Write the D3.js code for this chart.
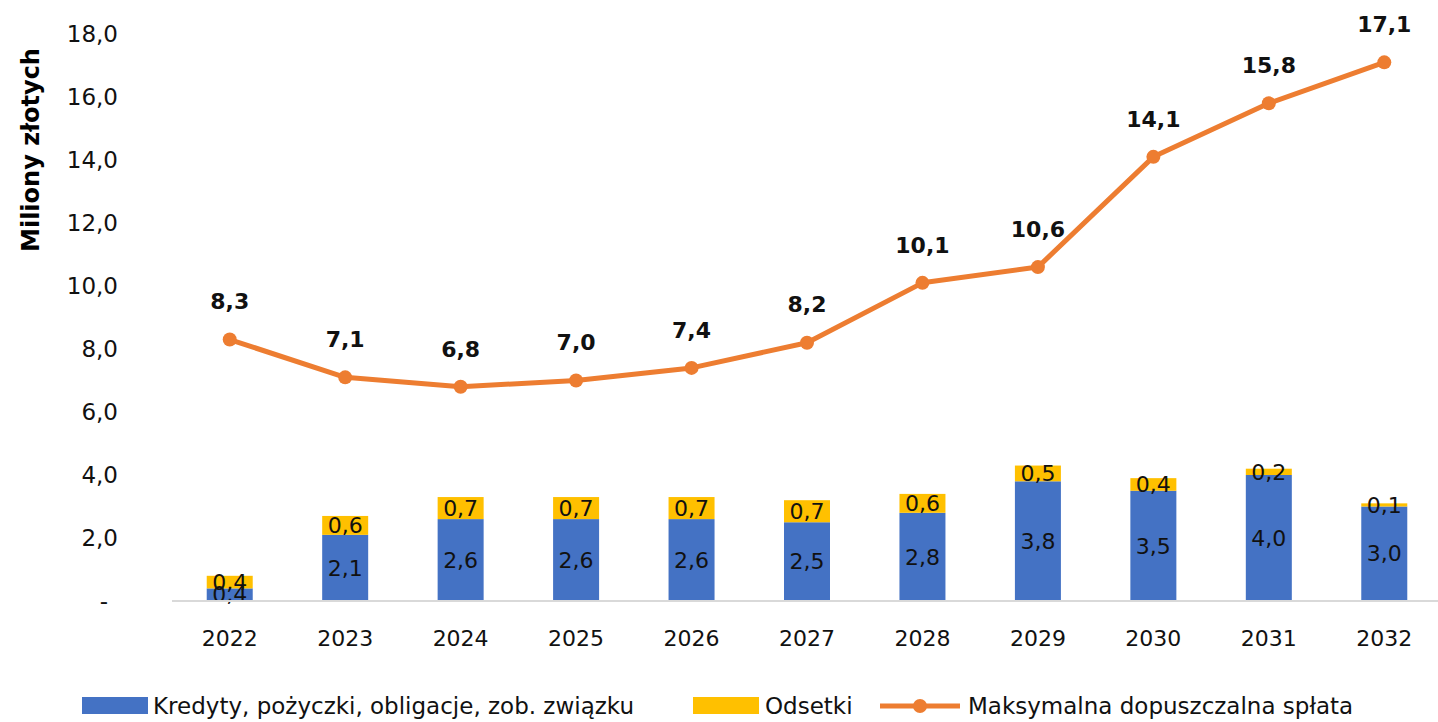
<!DOCTYPE html>
<html>
<head>
<meta charset="utf-8">
<script src="https://cdn.jsdelivr.net/npm/d3@7"></script>
<style>
  body { margin: 0; background: #fff; }
  svg { display: block; font-family: "DejaVu Sans", sans-serif; }
</style>
</head>
<body>
<svg id="chart" width="1438" height="722"></svg>
<script>
const years = ["2022", "2023", "2024", "2025", "2026", "2027", "2028", "2029", "2030", "2031", "2032"];
const kredyty = [0.4, 2.1, 2.6, 2.6, 2.6, 2.5, 2.8, 3.8, 3.5, 4.0, 3.0];
const odsetki = [0.4, 0.6, 0.7, 0.7, 0.7, 0.7, 0.6, 0.5, 0.4, 0.2, 0.1];
const maxSplata = [8.3, 7.1, 6.8, 7.0, 7.4, 8.2, 10.1, 10.6, 14.1, 15.8, 17.1];
const yTicks = [0, 2, 4, 6, 8, 10, 12, 14, 16, 18];
const legendLabels = ["Kredyty, pożyczki, obligacje, zob. związku", "Odsetki", "Maksymalna dopuszczalna spłata"];

const colors = { blue: "#4472C4", yellow: "#FFC000", orange: "#ED7D31" };
const fmt = v => d3.format(".1f")(v).replace(".", ",");

const svg = d3.select("#chart");
const plot = { left: 172, right: 1442, top: 34, bottom: 601 };

const x = d3.scaleBand().domain(years).range([plot.left, plot.right]).paddingInner(0.6).paddingOuter(0.3);
const xc = d => x(d) + x.bandwidth() / 2;
const y = d3.scaleLinear().domain([0, 18]).range([plot.bottom, plot.top]);

// y tick labels
svg.append("g").selectAll("text").data(yTicks).join("text")
  .attr("x", d => d === 0 ? 108 : 118)
  .attr("y", d => y(d))
  .attr("dy", "0.35em")
  .attr("text-anchor", "end")
  .attr("font-size", 23)
  .attr("fill", "#111")
  .text(d => d === 0 ? "-" : fmt(d));

// y title
svg.append("text")
  .attr("transform", "translate(39,150) rotate(-90)")
  .attr("text-anchor", "middle")
  .attr("font-size", 24)
  .attr("font-weight", "bold")
  .attr("fill", "#000")
  .text("Miliony złotych");

// stacked bars
const stack = years.map((yr, i) => ({ yr, k: kredyty[i], o: odsetki[i] }));
const barW = 46;
const bars = svg.append("g");
bars.selectAll(".blue").data(stack).join("rect")
  .attr("x", d => xc(d.yr) - barW / 2)
  .attr("width", barW)
  .attr("y", d => y(d.k))
  .attr("height", d => y(0) - y(d.k))
  .attr("fill", colors.blue);
bars.selectAll(".yellow").data(stack).join("rect")
  .attr("x", d => xc(d.yr) - barW / 2)
  .attr("width", barW)
  .attr("y", d => y(d.k + d.o))
  .attr("height", d => y(d.k) - y(d.k + d.o))
  .attr("fill", colors.yellow);

// baseline
svg.append("line")
  .attr("x1", plot.left).attr("x2", 1438)
  .attr("y1", y(0)).attr("y2", y(0))
  .attr("stroke", "#d9d9d9").attr("stroke-width", 2);

// bar labels
bars.selectAll(".lblk").data(stack).join("text")
  .attr("x", d => xc(d.yr))
  .attr("y", d => (y(0) + y(d.k)) / 2)
  .attr("dy", "0.35em")
  .attr("text-anchor", "middle")
  .attr("font-size", 22)
  .attr("fill", "#111")
  .text(d => fmt(d.k));
bars.selectAll(".lblo").data(stack).join("text")
  .attr("x", d => xc(d.yr))
  .attr("y", d => (y(d.k) + y(d.k + d.o)) / 2)
  .attr("dy", "0.35em")
  .attr("text-anchor", "middle")
  .attr("font-size", 22)
  .attr("fill", "#111")
  .text(d => fmt(d.o));

// x labels
svg.append("g").selectAll("text").data(years).join("text")
  .attr("x", d => xc(d))
  .attr("y", 638)
  .attr("dy", "0.35em")
  .attr("text-anchor", "middle")
  .attr("font-size", 22)
  .attr("fill", "#111")
  .text(d => d);

// line
const lineData = years.map((yr, i) => ({ yr, v: maxSplata[i] }));
const line = d3.line().x(d => xc(d.yr)).y(d => y(d.v));
svg.append("path")
  .datum(lineData)
  .attr("d", line)
  .attr("fill", "none")
  .attr("stroke", colors.orange)
  .attr("stroke-width", 5)
  .attr("stroke-linejoin", "round");
svg.append("g").selectAll("circle").data(lineData).join("circle")
  .attr("cx", d => xc(d.yr))
  .attr("cy", d => y(d.v))
  .attr("r", 7)
  .attr("fill", colors.orange);
svg.append("g").selectAll("text").data(lineData).join("text")
  .attr("x", d => xc(d.yr))
  .attr("y", d => y(d.v) - 38)
  .attr("dy", "0.35em")
  .attr("text-anchor", "middle")
  .attr("font-size", 22)
  .attr("font-weight", "bold")
  .attr("fill", "#111")
  .text(d => fmt(d.v));

// legend
const lg = svg.append("g").attr("font-size", 23).attr("fill", "#111");
lg.append("rect").attr("x", 82).attr("y", 697).attr("width", 66).attr("height", 17).attr("fill", colors.blue);
lg.append("text").attr("x", 153).attr("y", 706).attr("dy", "0.35em").text(legendLabels[0]);
lg.append("rect").attr("x", 693).attr("y", 697).attr("width", 66).attr("height", 17).attr("fill", colors.yellow);
lg.append("text").attr("x", 765).attr("y", 706).attr("dy", "0.35em").text(legendLabels[1]);
lg.append("line").attr("x1", 880).attr("x2", 960).attr("y1", 706).attr("y2", 706)
  .attr("stroke", colors.orange).attr("stroke-width", 5);
lg.append("circle").attr("cx", 920).attr("cy", 706).attr("r", 7).attr("fill", colors.orange);
lg.append("text").attr("x", 968).attr("y", 706).attr("dy", "0.35em").text(legendLabels[2]);
</script>
</body>
</html>
